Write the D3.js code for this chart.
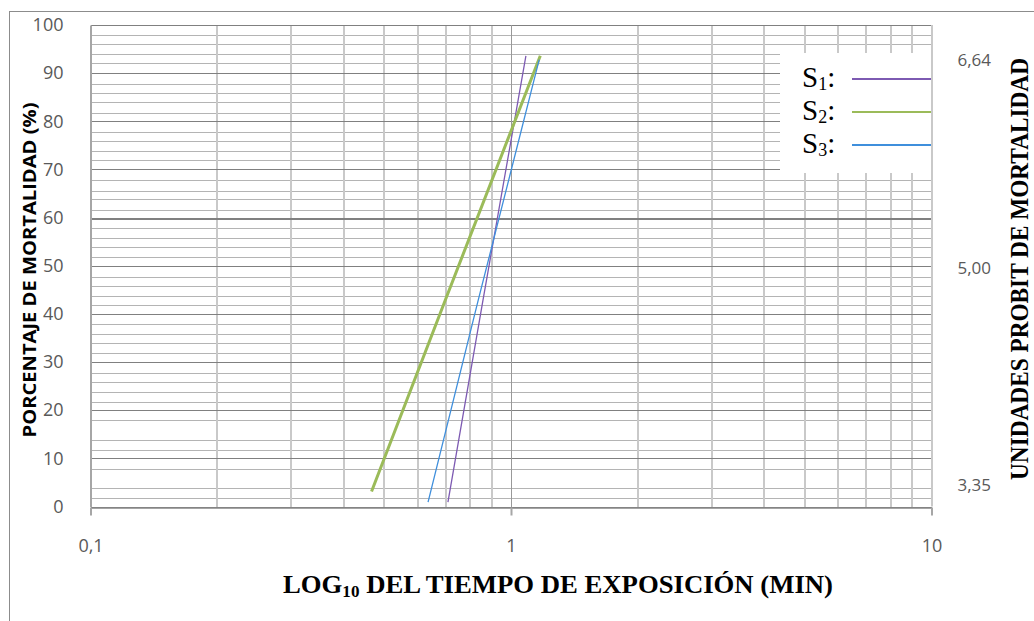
<!DOCTYPE html>
<html>
<head>
<meta charset="utf-8">
<script src="https://cdn.jsdelivr.net/npm/d3@7"></script>
<style>
  body { margin: 0; background: #fff; }
  svg { display: block; }
</style>
</head>
<body>
<div class="chart"></div>
<script>
// values (time in min, mortality in %)
const s1Time = [0.708, 0.858, 1.085];
const s1Pct = [0.9, 42.9, 93.6];
const s2Time = [0.466, 0.698, 1.174];
const s2Pct = [3.1, 42.9, 93.6];
const s3Time = [0.635, 0.836, 1.167];
const s3Pct = [0.9, 42.9, 92.8];

const seriesSub = ["1", "2", "3"];
const seriesColor = ["#7d5ab2", "#9bbb59", "#3f8fdc"];
const seriesWidth = [1.3, 3, 1.3];

const yTicks = [0, 10, 20, 30, 40, 50, 60, 70, 80, 90, 100];
const yMinor = [1.7, 3.8, 7.8, 11.7, 13.9, 17.9, 21.8, 23.8, 25.8, 27.8, 31.8, 33.9, 35.8, 37.8,
  41.9, 43.8, 45.8, 47.7, 51.8, 53.8, 55.7, 57.8, 61.5, 63.9, 65.6, 67.8, 71.9, 73.8, 75.9, 77.8,
  81.7, 84.0, 85.9, 87.7, 92.1, 94.0, 96.0, 97.9];
const xTicks = [0.1, 1, 10];
const xTickLabels = ["0,1", "1", "10"];
const xMinor = [0.2, 0.3, 0.4, 0.5, 0.6, 0.7, 0.8, 0.9, 2, 3, 4, 5, 6, 7, 8, 9];
const probitLabels = ["6,64", "5,00", "3,35"];
const probitAt = [92.7, 49.5, 4.5];

const width = 1034;
const height = 621;
const margin = { top: 25, bottom: 114.5, left: 90.5, right: 102.5 };

const svg = d3.select('.chart')
  .append('svg')
  .attr('width', width)
  .attr('height', height)
  .attr('viewBox', `0 0 ${width} ${height}`);

// outer chart frame (cut by the picture edge)
svg.append('rect')
  .attr('x', 9.5).attr('y', 11.5)
  .attr('width', 1200).attr('height', 800)
  .attr('fill', 'none').attr('stroke', '#8c8c8c');

const x = d3.scaleLog()
  .domain([0.1, 10])
  .range([margin.left, width - margin.right]);

const y = d3.scaleLinear()
  .domain([0, 100])
  .range([height - margin.bottom, margin.top]);

const grid = svg.append('g').attr('shape-rendering', 'crispEdges');

grid.selectAll('line.hmin')
  .data(yMinor)
  .join('line')
  .attr('x1', x(0.1)).attr('x2', x(10))
  .attr('y1', d => Math.round(y(d)) + 0.5).attr('y2', d => Math.round(y(d)) + 0.5)
  .attr('stroke', '#b4b4b4');

grid.selectAll('line.vmin')
  .data(xMinor)
  .join('line')
  .attr('x1', d => Math.round(x(d))).attr('x2', d => Math.round(x(d)))
  .attr('y1', y(100)).attr('y2', y(0))
  .attr('stroke', '#c9c9c9')
  .attr('stroke-width', 2);

grid.selectAll('line.hmaj')
  .data(yTicks)
  .join('line')
  .attr('x1', x(0.1)).attr('x2', x(10))
  .attr('y1', d => Math.round(y(d)) + 0.5).attr('y2', d => Math.round(y(d)) + 0.5)
  .attr('stroke', '#808080')
  .attr('stroke-width', d => d === 60 ? 2 : 1);

// x = 1 line
grid.append('line')
  .attr('x1', Math.round(x(1)) + 0.5).attr('x2', Math.round(x(1)) + 0.5)
  .attr('y1', y(100)).attr('y2', y(0))
  .attr('stroke', '#999');

// series
const line = d3.line()
  .x(d => x(d[0]))
  .y(d => y(d[1]));

const series = [d3.zip(s1Time, s1Pct), d3.zip(s2Time, s2Pct), d3.zip(s3Time, s3Pct)];

svg.append('g')
  .selectAll('path')
  .data(series)
  .join('path')
  .attr('d', line)
  .attr('fill', 'none')
  .attr('stroke', (d, i) => seriesColor[i])
  .attr('stroke-width', (d, i) => seriesWidth[i]);

// legend box
const legend = svg.append('g');
legend.append('rect')
  .attr('x', 780).attr('y', 53)
  .attr('width', x(10) - 780).attr('height', 120)
  .attr('fill', '#fff');

const rows = legend.selectAll('g')
  .data(seriesSub)
  .join('g')
  .attr('transform', (d, i) => `translate(0, ${i * 33})`);

const lt = rows.append('text')
  .attr('x', 802).attr('y', 87)
  .attr('font-family', '"Liberation Serif", "Times New Roman", serif')
  .attr('font-size', 29)
  .attr('fill', '#000');
lt.append('tspan').text('S');
lt.append('tspan').attr('font-size', 18).attr('dy', 3).text(d => d);
lt.append('tspan').attr('dy', -3).text(':');

rows.append('line')
  .attr('x1', 852).attr('x2', x(10))
  .attr('y1', 79).attr('y2', 79)
  .attr('stroke', (d, i) => seriesColor[i])
  .attr('stroke-width', 2);

// plot borders
svg.append('line')
  .attr('x1', Math.round(x(10))).attr('x2', Math.round(x(10)))
  .attr('y1', y(100)).attr('y2', y(0))
  .attr('stroke', '#c9c9c9').attr('stroke-width', 2);

// axes
const xAxis = g => {
  g.attr('transform', `translate(0, ${Math.round(y(0)) + 0.5})`)
    .call(d3.axisBottom(x).tickValues(xTicks).tickFormat((d, i) => xTickLabels[i])
      .tickSize(8).tickSizeOuter(0).tickPadding(24))
    .attr('font-size', 18)
    .attr('font-family', '"Open Sans", sans-serif');
  g.select('.domain').attr('stroke', '#868686').attr('stroke-width', 1.5);
  g.selectAll('.tick line').attr('stroke', '#a6a6a6').attr('stroke-width', 2);
  g.selectAll('.tick text').attr('fill', '#595959');
};

const yAxis = g => {
  g.attr('transform', `translate(${margin.left}, 0)`)
    .call(d3.axisLeft(y).tickValues(yTicks).tickSize(0).tickPadding(27))
    .attr('font-size', 18)
    .attr('font-family', '"Open Sans", sans-serif');
  g.select('.domain').attr('stroke', '#a6a6a6').attr('stroke-width', 2);
  g.selectAll('.tick text').attr('fill', '#595959');
};

svg.append('g').call(xAxis);
svg.append('g').call(yAxis);

// probit labels on the right
svg.append('g')
  .selectAll('text')
  .data(probitLabels)
  .join('text')
  .attr('x', 991)
  .attr('y', (d, i) => y(probitAt[i]))
  .attr('dy', '0.35em')
  .attr('text-anchor', 'end')
  .attr('font-family', '"Open Sans", sans-serif')
  .attr('font-size', 17)
  .attr('fill', '#595959')
  .text(d => d);

// titles
svg.append('text')
  .attr('transform', 'translate(36, 270) rotate(-90)')
  .attr('text-anchor', 'middle')
  .attr('font-family', '"Open Sans", sans-serif')
  .attr('font-weight', 'bold')
  .attr('font-size', 18)
  .attr('textLength', 335)
  .attr('lengthAdjust', 'spacingAndGlyphs')
  .text('PORCENTAJE DE MORTALIDAD (%)');

svg.append('text')
  .attr('transform', 'translate(1028, 269) rotate(-90)')
  .attr('text-anchor', 'middle')
  .attr('font-family', '"Liberation Serif", "Times New Roman", serif')
  .attr('font-weight', 'bold')
  .attr('font-size', 25)
  .attr('textLength', 422)
  .attr('lengthAdjust', 'spacingAndGlyphs')
  .text('UNIDADES PROBIT DE MORTALIDAD');

const xt = svg.append('text')
  .attr('x', 558).attr('y', 593)
  .attr('text-anchor', 'middle')
  .attr('font-family', '"Liberation Serif", "Times New Roman", serif')
  .attr('font-weight', 'bold')
  .attr('font-size', 25)
  .attr('textLength', 550)
  .attr('lengthAdjust', 'spacingAndGlyphs');
xt.append('tspan').text('LOG');
xt.append('tspan').attr('font-size', 16).attr('dy', 4).text('10');
xt.append('tspan').attr('dy', -4).text(' DEL TIEMPO DE EXPOSICIÓN (MIN)');
</script>
</body>
</html>
